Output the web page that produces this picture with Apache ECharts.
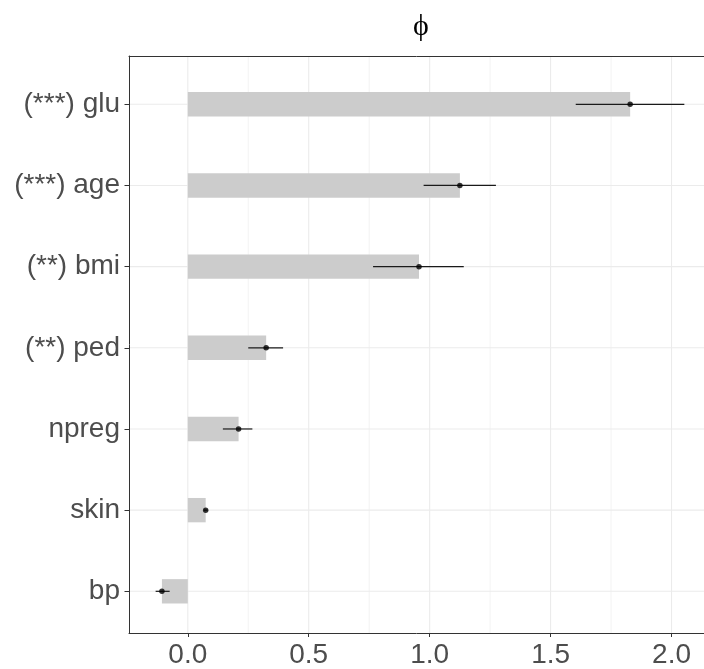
<!DOCTYPE html>
<html>
<head>
<meta charset="utf-8">
<script src="https://cdn.jsdelivr.net/npm/echarts@6/dist/echarts.min.js"></script>
<style>
  html, body { margin: 0; padding: 0; background: #ffffff; }
  #chart { width: 704px; height: 669px; }
</style>
</head>
<body>
<div id="chart"></div>
<script>
// Predictors, top to bottom
const categories = ['(***) glu', '(***) age', '(**) bmi', '(**) ped', 'npreg', 'skin', 'bp'];
// Effect size estimates and their interval bounds
const estimates = [1.829, 1.125, 0.956, 0.324, 0.210, 0.074, -0.107];
const lowerCI   = [1.604, 0.975, 0.766, 0.250, 0.145, 0.066, -0.133];
const upperCI   = [2.053, 1.274, 1.141, 0.394, 0.267, 0.082, -0.075];
// x-axis ticks
const majorTicks = [0, 0.5, 1, 1.5, 2];
const minorTicks = [0.25, 0.75, 1.25, 1.75];
const tickLabels = ['0.0', '0.5', '1.0', '1.5', '2.0'];
const xMin = -0.2431;
const xMax = 2.1343;

const FONT = "'Liberation Sans', Arimo, Helvetica, Arial, sans-serif";
const AXIS_COLOR = '#333333';
const TEXT_COLOR = '#4d4d4d';
const GRID_COLOR = '#ebebeb';

const chart = echarts.init(document.getElementById('chart'), null, { renderer: 'canvas' });

function vGridRenderer(width) {
  return function (params, api) {
    const v = api.value(0);
    const p1 = api.coord([v, 0]);
    const p2 = api.coord([v, 1]);
    return {
      type: 'line',
      shape: { x1: p1[0], y1: p1[1], x2: p2[0], y2: p2[1] },
      style: { stroke: GRID_COLOR, lineWidth: width }
    };
  };
}

const option = {
  animation: false,
  backgroundColor: '#ffffff',
  grid: [
    // full panel: border + vertical grid + x axis
    { left: 129, right: -2, top: 56, bottom: 29 },
    // category bands for the bars
    { left: 129, right: -2, top: 63.7, bottom: 37.1 }
  ],
  xAxis: [
    {
      gridIndex: 0, type: 'value', min: xMin, max: xMax, position: 'bottom', z: 10,
      axisLine: { show: true, onZero: false, lineStyle: { color: AXIS_COLOR, width: 1 } },
      axisTick: { show: true, length: 4, customValues: majorTicks, lineStyle: { color: AXIS_COLOR, width: 1 } },
      axisLabel: {
        customValues: majorTicks,
        formatter: v => tickLabels[majorTicks.indexOf(v)],
        fontSize: 28, color: TEXT_COLOR, fontFamily: FONT, margin: 8
      },
      splitLine: { show: false }
    },
    { gridIndex: 1, type: 'value', min: xMin, max: xMax, show: false },
    {
      gridIndex: 0, type: 'value', min: xMin, max: xMax, position: 'top', z: 10,
      axisLine: { show: true, onZero: false, lineStyle: { color: AXIS_COLOR, width: 1 } },
      axisTick: { show: false }, axisLabel: { show: false }, splitLine: { show: false }
    }
  ],
  yAxis: [
    {
      gridIndex: 0, type: 'value', min: 0, max: 1, position: 'left', z: 10,
      axisLine: { show: true, onZero: false, lineStyle: { color: AXIS_COLOR, width: 1 } },
      axisTick: { show: false }, axisLabel: { show: false }, splitLine: { show: false }
    },
    {
      gridIndex: 1, type: 'category', data: categories, inverse: true, z: 10,
      axisLine: { show: false, onZero: false },
      axisTick: { show: true, alignWithLabel: true, length: 4.5, lineStyle: { color: AXIS_COLOR, width: 1 } },
      axisLabel: { fontSize: 28, color: TEXT_COLOR, fontFamily: FONT, margin: 9 },
      splitLine: { show: false }
    }
  ],
  graphic: [
    {
      type: 'text', x: 421, y: 27, z: 10,
      style: {
        text: '\u03D5', align: 'center', verticalAlign: 'middle',
        textAlign: 'center', textVerticalAlign: 'middle',
        fontSize: 30, fontFamily: "'Liberation Serif', 'DejaVu Serif', serif", fill: '#000000'
      }
    }
  ],
  series: [
    {
      type: 'custom', name: 'major grid', xAxisIndex: 0, yAxisIndex: 0, z: 0,
      data: majorTicks.map(v => [v]), encode: { x: 0 },
      renderItem: vGridRenderer(1.1), silent: true
    },
    {
      type: 'custom', name: 'minor grid', xAxisIndex: 0, yAxisIndex: 0, z: 0,
      data: minorTicks.map(v => [v]), encode: { x: 0 },
      renderItem: vGridRenderer(0.6), silent: true
    },
    {
      type: 'custom', name: 'category grid', xAxisIndex: 1, yAxisIndex: 1, z: 0,
      data: categories.map(c => [0, c]), encode: { x: 0, y: 1 }, silent: true,
      renderItem: function (params, api) {
        const y = api.value(1);
        const p1 = api.coord([xMin, y]);
        const p2 = api.coord([xMax, y]);
        return {
          type: 'line',
          shape: { x1: p1[0], y1: p1[1], x2: p2[0], y2: p2[1] },
          style: { stroke: GRID_COLOR, lineWidth: 1.1 }
        };
      }
    },
    {
      type: 'bar', name: 'estimate', xAxisIndex: 1, yAxisIndex: 1, z: 2,
      data: estimates, barWidth: '30%',
      itemStyle: { color: '#cccccc' }, silent: true
    },
    {
      type: 'custom', name: 'interval', xAxisIndex: 1, yAxisIndex: 1, z: 3,
      data: categories.map((c, i) => [c, lowerCI[i], upperCI[i]]),
      encode: { y: 0, x: [1, 2] }, silent: true,
      renderItem: function (params, api) {
        const y = api.value(0);
        const p1 = api.coord([api.value(1), y]);
        const p2 = api.coord([api.value(2), y]);
        return {
          type: 'line',
          shape: { x1: p1[0], y1: p1[1], x2: p2[0], y2: p2[1] },
          style: { stroke: '#1a1a1a', lineWidth: 1.2 }
        };
      }
    },
    {
      type: 'scatter', name: 'point', xAxisIndex: 1, yAxisIndex: 1, z: 4,
      data: estimates.map((v, i) => [v, categories[i]]),
      symbol: 'circle', symbolSize: 5.5,
      itemStyle: { color: '#000000' }, silent: true
    }
  ]
};

chart.setOption(option);
</script>
</body>
</html>
